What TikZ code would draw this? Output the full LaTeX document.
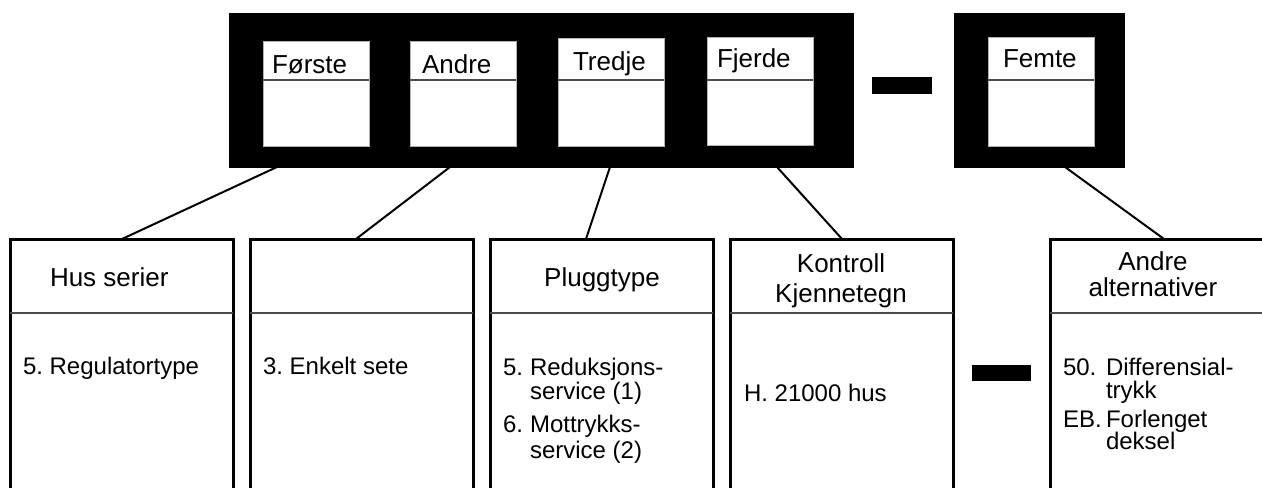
\documentclass[tikz,border=0pt]{standalone}
\usepackage{fontspec}
\setmainfont{Liberation Sans}
\usetikzlibrary{calc}
\frenchspacing
\begin{document}
\begin{tikzpicture}[x=0.5pt,y=-0.5pt,
  font=\fontsize{13}{15}\selectfont,
  blackbox/.style={fill=black,draw=black,line width=0.5pt,outer sep=0pt,inner sep=0pt,rectangle},
  slot/.style={fill=white,draw=gray!60,line width=0.5pt,outer sep=0pt,inner sep=0pt,rectangle,minimum width=53pt},
  divider/.style={draw=gray!60!black,line width=0.6pt},
  catbox/.style={draw=black,line width=1.5pt,outer sep=0pt,inner sep=0pt,rectangle,minimum width=111.5pt,minimum height=140.5pt},
  conn/.style={draw=black,line width=1pt},
  txt/.style={anchor=base west,inner sep=0pt,outer sep=0pt},
  btxt/.style={txt,font=\fontsize{12}{14}\selectfont},
  ctxt/.style={anchor=base,inner sep=0pt,outer sep=0pt,align=center}]
\useasboundingbox (0,0) rectangle (1262,487);
\clip (0,0) rectangle (1262,487);

% top black frames
\node[blackbox,minimum width=312pt,minimum height=77pt] (black1) at (541,90) {};
\node[blackbox,minimum width=85pt,minimum height=77pt] (black2) at (1039,90) {};
\node[blackbox,minimum width=29.5pt,minimum height=8pt] (dash1) at (901.5,85) {};

% slots
\node[slot,minimum height=52.5pt] (s1) at (316,93.5) {};
\node[slot,minimum height=52.5pt] (s2) at (463,93.5) {};
\node[slot,minimum height=54pt] (s3) at (611,92) {};
\node[slot,minimum height=54pt] (s4) at (760,91) {};
\node[slot,minimum height=54.5pt] (s5) at (1041,91.5) {};
\draw[divider] ($(s1.north west)+(0,39)$) -- ($(s1.north east)+(0,39)$);
\draw[divider] ($(s2.north west)+(0,39)$) -- ($(s2.north east)+(0,39)$);
\draw[divider] ($(s3.north west)+(0,42)$) -- ($(s3.north east)+(0,42)$);
\draw[divider] ($(s4.north west)+(0,43)$) -- ($(s4.north east)+(0,43)$);
\draw[divider] ($(s5.north west)+(0,43)$) -- ($(s5.north east)+(0,43)$);
\node[txt] (l1) at (272,73) {Første};
\node[txt] (l2) at (422,73) {Andre};
\node[txt] (l3) at (573,70) {Tredje};
\node[txt] (l4) at (717,67) {Fjerde};
\node[txt] (l5) at (1003,67) {Femte};

% bottom category boxes
\node[catbox] (b1) at (121.5,379.5) {};
\node[catbox] (b2) at (361.5,379.5) {};
\node[catbox] (b3) at (601.5,379.5) {};
\node[catbox] (b4) at (841.5,379.5) {};
\node[catbox] (b5) at (1161.5,379.5) {};
\foreach \b in {b1,b2,b3,b4,b5}
  \draw[divider] ($(\b.north west)+(0,74)$) -- ($(\b.north east)+(0,74)$);
\node[blackbox,minimum width=29pt,minimum height=7.5pt] (dash2) at (1001,372.5) {};

% connectors
\draw[conn] ($(black1.south west)+(48,0)$) -- ($(b1.north west)+(112,0)$);
\draw[conn] ($(black1.south west)+(221,0)$) -- ($(b2.north west)+(106,0)$);
\draw[conn] ($(black1.south west)+(381,0)$) -- ($(b3.north west)+(96,0)$);
\draw[conn] ($(black1.south west)+(548,0)$) -- ($(b4.north west)+(112,0)$);
\draw[conn] ($(black2.south west)+(111,0)$) -- ($(b5.north west)+(114,0)$);

% headers
\node[txt] (h1) at (50,286) {Hus serier};
\node[ctxt] (h3) at (602,286) {Pluggtype};
\node[ctxt] (h4a) at (841,272) {Kontroll};
\node[ctxt] (h4b) at (841,302) {Kjennetegn};
\node[ctxt] (h5a) at (1153,270) {Andre};
\node[ctxt] (h5b) at (1153,296) {alternativer};

% bodies
\node[btxt] (p1) at (23,374) {5. Regulatortype};
\node[btxt] (p2) at (263,374) {3. Enkelt sete};
\node[btxt] (p3a) at (503,375) {5.};
\node[btxt] (p3b) at (530,375) {Reduksjons-};
\node[btxt] (p3c) at (530,399) {service (1)};
\node[btxt] (p3d) at (503,432) {6.};
\node[btxt] (p3e) at (530,432) {Mottrykks-};
\node[btxt] (p3f) at (530,458) {service (2)};
\node[btxt] (p4) at (744,401) {H. 21000 hus};
\node[btxt] (p5a) at (1063,375) {50.};
\node[btxt] (p5b) at (1106,375) {Differensial-};
\node[btxt] (p5c) at (1106,398) {trykk};
\node[btxt] (p5d) at (1063,427) {EB.};
\node[btxt] (p5e) at (1106,427) {Forlenget};
\node[btxt] (p5f) at (1106,449) {deksel};
\end{tikzpicture}
\end{document}
